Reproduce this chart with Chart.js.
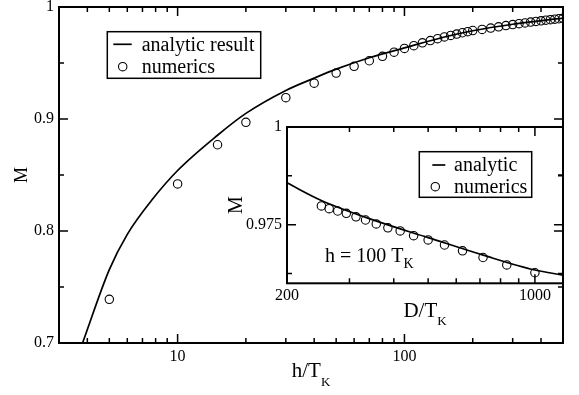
<!DOCTYPE html>
<html>
<head>
<meta charset="utf-8">
<script src="https://cdn.jsdelivr.net/npm/chart.js@4.4.1/dist/chart.umd.min.js"></script>
<style>
  html, body { margin: 0; padding: 0; background: #fff; }
  #wrap { position: relative; width: 579px; height: 395px; overflow: hidden; }
  #main { position: absolute; left: 0; top: 0; }
  #inset { position: absolute; left: 220px; top: 110px; }
</style>
</head>
<body>
<div id="wrap">
  <canvas id="main" width="579" height="395"></canvas>
  <canvas id="inset" width="359" height="220"></canvas>
</div>
<script>
// Magnetization M versus field h/T_K: analytic curve and numerical points
const fieldAnalytic = [3.81, 5, 6, 7.76, 10, 15, 20, 30, 40, 50, 70, 100, 150, 200, 300, 500];
const magAnalytic   = [0.700, 0.7655, 0.797, 0.8285, 0.854, 0.8855, 0.905, 0.9255, 0.9365, 0.9445, 0.9547, 0.9635, 0.9732, 0.9788, 0.9846, 0.9901];

const fieldNumerics = [5, 10, 15, 20, 30, 40, 50, 60, 70, 80, 90, 100, 110, 120, 130, 140, 150, 160, 170, 180, 190, 200,
                       220, 240, 260, 280, 300, 320, 340, 360, 380, 400, 420, 440, 460, 480, 500];
const magNumerics   = [0.739, 0.842, 0.877, 0.897, 0.919, 0.932, 0.941, 0.947, 0.952, 0.956, 0.9597, 0.963, 0.9655, 0.968, 0.970, 0.9717, 0.9733, 0.9746, 0.9758, 0.977, 0.978, 0.979,
                       0.9800, 0.9812, 0.9823, 0.9834, 0.9843, 0.9851, 0.9858, 0.9865, 0.9871, 0.9877, 0.9882, 0.9887, 0.9891, 0.9895, 0.9899];

// Inset: M versus bandwidth D/T_K at h = 100 T_K
const bandAnalytic    = [200, 250, 358, 500, 715, 1000, 1200];
const magBandAnalytic = [0.9857, 0.9812, 0.9759, 0.9717, 0.9672, 0.9634, 0.9621];

const bandNumerics    = [250, 263, 278, 294, 313, 333, 357, 385, 417, 455, 500, 556, 625, 714, 833, 1000];
const magBandNumerics = [0.9798, 0.9791, 0.9785, 0.9779, 0.9770, 0.9762, 0.9752, 0.9742, 0.9734, 0.9722, 0.9711, 0.9698, 0.9683, 0.9666, 0.9647, 0.9627];

// Tick values
const mainXLabels = [10, 100];
const mainXMinor  = [4, 5, 6, 7, 8, 9, 20, 30, 40, 50, 60, 70, 80, 90, 200, 300, 400];
const mainYLabels = [0.7, 0.8, 0.9, 1];
const mainYMinor  = [0.75, 0.85, 0.95];
const insetXLabels = [200, 1000];
const insetXMinor  = [300, 400, 500, 600, 700, 800, 900];
const insetYLabels = [0.975, 1];
const insetYMinor  = [0.9625, 0.9875];

const serif = '"Liberation Serif", "Times New Roman", "DejaVu Serif", serif';
Chart.defaults.font.family = serif;
Chart.defaults.color = '#000';

const pairs = (xs, ys) => xs.map((x, i) => ({ x, y: ys[i] }));

// Frame with inward tick marks on all four sides
function frameTicks(id, xMajor, xMinor, yMajor, yMinor, majorLen, minorLen) {
  return {
    id,
    afterDatasetsDraw(chart) {
      const { ctx, chartArea: a, scales } = chart;
      const sx = scales.x, sy = scales.y;
      ctx.save();
      ctx.strokeStyle = '#000';
      ctx.lineWidth = 1.5;
      const vert = (vals, len) => vals.forEach(v => {
        const p = sx.getPixelForValue(v);
        if (p < a.left - 0.5 || p > a.right + 0.5) return;
        ctx.beginPath();
        ctx.moveTo(p, a.bottom); ctx.lineTo(p, a.bottom - len);
        ctx.moveTo(p, a.top); ctx.lineTo(p, a.top + len);
        ctx.stroke();
      });
      const horz = (vals, len) => vals.forEach(v => {
        const p = sy.getPixelForValue(v);
        if (p < a.top - 0.5 || p > a.bottom + 0.5) return;
        ctx.beginPath();
        ctx.moveTo(a.left, p); ctx.lineTo(a.left + len, p);
        ctx.moveTo(a.right, p); ctx.lineTo(a.right - len, p);
        ctx.stroke();
      });
      vert(xMajor, majorLen); vert(xMinor, minorLen);
      horz(yMajor, majorLen); horz(yMinor, minorLen);
      ctx.lineWidth = 2;
      ctx.strokeRect(a.left, a.top, a.right - a.left, a.bottom - a.top);
      ctx.restore();
    }
  };
}

// Text with a subscript
function subText(ctx, base, sub, x, y, size, subSize, drop, align) {
  ctx.font = size + 'px ' + serif;
  const w1 = ctx.measureText(base).width;
  ctx.font = subSize + 'px ' + serif;
  const w2 = ctx.measureText(sub).width;
  const x0 = align === 'center' ? x - (w1 + w2) / 2 : x;
  ctx.textAlign = 'left';
  ctx.textBaseline = 'alphabetic';
  ctx.fillStyle = '#000';
  ctx.font = size + 'px ' + serif;
  ctx.fillText(base, x0, y);
  ctx.font = subSize + 'px ' + serif;
  ctx.fillText(sub, x0 + w1, y + drop);
}

function rotatedText(ctx, text, x, y, size) {
  ctx.save();
  ctx.translate(x, y);
  ctx.rotate(-Math.PI / 2);
  ctx.font = size + 'px ' + serif;
  ctx.textAlign = 'center';
  ctx.textBaseline = 'alphabetic';
  ctx.fillStyle = '#000';
  ctx.fillText(text, 0, 0);
  ctx.restore();
}

// Boxed legend built from the chart's datasets
function boxLegend(id, box) {
  return {
    id,
    afterDraw(chart) {
      const { ctx, chartArea: a } = chart;
      const bx = a.left + box.dx, by = a.top + box.dy;
      ctx.save();
      ctx.fillStyle = '#fff';
      ctx.fillRect(bx, by, box.w, box.h);
      ctx.strokeStyle = '#000';
      ctx.lineWidth = 1.5;
      ctx.strokeRect(bx, by, box.w, box.h);
      chart.data.datasets.forEach((ds, i) => {
        const ry = by + box.rows[i];
        ctx.lineWidth = ds.borderWidth;
        ctx.beginPath();
        if (ds.showLine) {
          ctx.moveTo(bx + box.lineX0, ry);
          ctx.lineTo(bx + box.lineX1, ry);
        } else {
          ctx.arc(bx + box.markX, ry, ds.pointRadius, 0, Math.PI * 2);
        }
        ctx.stroke();
        ctx.fillStyle = '#000';
        ctx.font = box.size + 'px ' + serif;
        ctx.textAlign = 'left';
        ctx.textBaseline = 'middle';
        ctx.fillText(ds.label, bx + box.textX, ry + 1);
      });
      ctx.restore();
    }
  };
}

const common = {
  responsive: false,
  animation: false,
  devicePixelRatio: 1,
  plugins: { legend: { display: false }, tooltip: { enabled: false } }
};

const lineStyle = { showLine: true, borderColor: '#000', borderWidth: 1.7, pointRadius: 0, cubicInterpolationMode: 'monotone', fill: false };
const dotStyle = { showLine: false, pointStyle: 'circle', pointRadius: 4.2, borderColor: '#000', borderWidth: 1.1, backgroundColor: 'rgba(0,0,0,0)', pointBackgroundColor: 'rgba(0,0,0,0)' };

const fitY = w => s => { s.width = w; s.paddingTop = 0; s.paddingBottom = 0; };
const fitX = h => s => { s.height = h; s.paddingLeft = 0; s.paddingRight = 0; };

// Main panel
new Chart(document.getElementById('main'), {
  type: 'scatter',
  data: {
    datasets: [
      Object.assign({ label: 'analytic result', data: pairs(fieldAnalytic, magAnalytic) }, lineStyle),
      Object.assign({ label: 'numerics', data: pairs(fieldNumerics, magNumerics) }, dotStyle)
    ]
  },
  options: Object.assign({}, common, {
    layout: { padding: { top: 7, right: 16, left: 0, bottom: 0 } },
    scales: {
      x: {
        type: 'logarithmic', min: 3, max: 500,
        grid: { display: false, drawTicks: false }, border: { display: false },
        afterBuildTicks: s => { s.ticks = mainXLabels.map(v => ({ value: v })); },
        afterFit: fitX(52),
        ticks: { font: { size: 16 }, padding: 4, maxRotation: 0, autoSkip: false, callback: v => String(v) }
      },
      y: {
        type: 'linear', min: 0.7, max: 1,
        grid: { display: false, drawTicks: false }, border: { display: false },
        afterBuildTicks: s => { s.ticks = mainYLabels.map(v => ({ value: v })); },
        afterFit: fitY(59),
        ticks: { font: { size: 16 }, padding: 5, autoSkip: false, callback: v => String(v) }
      }
    }
  }),
  plugins: [
    frameTicks('mainFrame', mainXLabels, mainXMinor, mainYLabels, mainYMinor, 9, 5),
    boxLegend('mainLegend', { dx: 48.3, dy: 24.7, w: 153.4, h: 46.6, rows: [12.6, 35], lineX0: 6, lineX1: 24.4, markX: 15.4, textX: 34.4, size: 20 }),
    {
      id: 'mainTitles',
      afterDraw(chart) {
        const { ctx, chartArea: a } = chart;
        subText(ctx, 'h/T', 'K', (a.left + a.right) / 2, a.bottom + 33.7, 21, 13, 9, 'center');
        rotatedText(ctx, 'M', a.left - 32.3, (a.top + a.bottom) / 2, 18);
      }
    }
  ]
});

// Inset panel
new Chart(document.getElementById('inset'), {
  type: 'scatter',
  data: {
    datasets: [
      Object.assign({ label: 'analytic', data: pairs(bandAnalytic, magBandAnalytic) }, lineStyle),
      Object.assign({ label: 'numerics', data: pairs(bandNumerics, magBandNumerics) }, dotStyle)
    ]
  },
  options: Object.assign({}, common, {
    layout: { padding: { top: 17, right: 16, left: 0, bottom: 0 } },
    scales: {
      x: {
        type: 'logarithmic', min: 200, max: 1200,
        grid: { display: false, drawTicks: false }, border: { display: false },
        afterBuildTicks: s => { s.ticks = insetXLabels.map(v => ({ value: v })); },
        afterFit: fitX(46.7),
        ticks: { font: { size: 16 }, padding: 3, maxRotation: 0, autoSkip: false, callback: v => String(v) }
      },
      y: {
        type: 'linear', min: 0.96, max: 1,
        grid: { display: false, drawTicks: false }, border: { display: false },
        afterBuildTicks: s => { s.ticks = insetYLabels.map(v => ({ value: v })); },
        afterFit: fitY(67),
        ticks: { font: { size: 16 }, padding: 5, autoSkip: false, callback: v => String(v) }
      }
    }
  }),
  plugins: [
    frameTicks('insetFrame', insetXLabels, insetXMinor, insetYLabels, insetYMinor, 9, 5),
    boxLegend('insetLegend', { dx: 132.3, dy: 24.7, w: 112.4, h: 45.6, rows: [13.3, 35], lineX0: 13, lineX1: 26, markX: 16, textX: 34.7, size: 20 }),
    {
      id: 'insetTitles',
      afterDraw(chart) {
        const { ctx, chartArea: a } = chart;
        subText(ctx, 'D/T', 'K', (a.left + a.right) / 2, a.bottom + 33.4, 21, 13, 8.5, 'center');
        rotatedText(ctx, 'M', a.left - 45.3, (a.top + a.bottom) / 2, 20);
        subText(ctx, 'h = 100 T', 'K', a.left + 38, a.bottom - 21.6, 20, 14, 6.5, 'left');
      }
    }
  ]
});
</script>
</body>
</html>
